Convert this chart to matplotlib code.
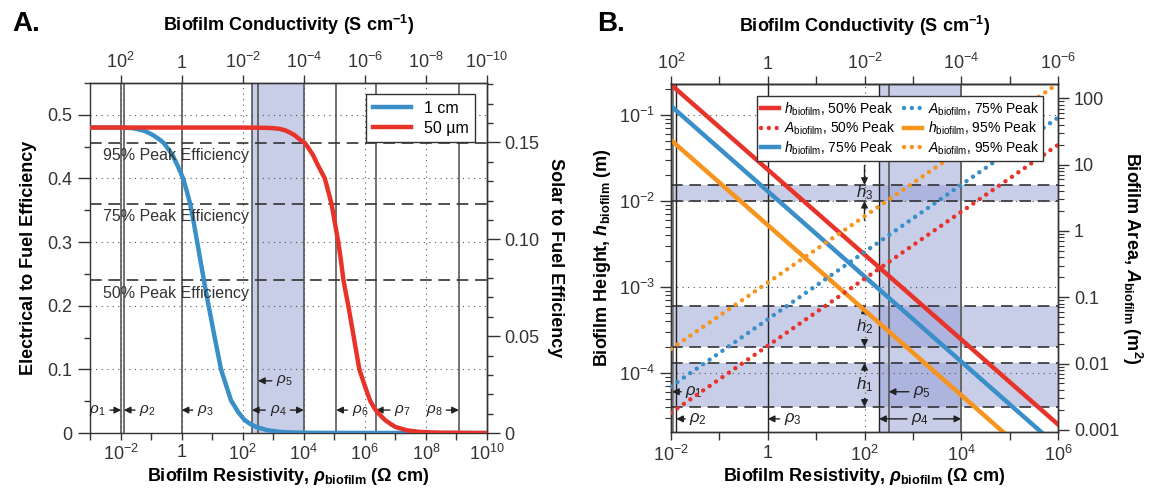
import numpy as np
import matplotlib
matplotlib.use("Agg")
import matplotlib.pyplot as plt
from matplotlib.ticker import MultipleLocator, NullFormatter

plt.rcParams['font.family'] = ['Liberation Sans', 'DejaVu Sans']
plt.rcParams['mathtext.fontset'] = 'custom'
plt.rcParams['mathtext.rm'] = 'Liberation Sans'
plt.rcParams['mathtext.it'] = 'Liberation Sans:italic'
plt.rcParams['mathtext.bf'] = 'Liberation Sans:bold'
plt.rcParams['mathtext.bfit'] = 'Liberation Sans:bold:italic'
plt.rcParams['axes.edgecolor'] = '#333333'
plt.rcParams['axes.linewidth'] = 1.0
plt.rcParams['xtick.color'] = '#333333'
plt.rcParams['ytick.color'] = '#333333'

BLUE = '#3a8fc8'
RED = '#e8332a'
ORANGE = '#f7941d'
SHADE = '#939dd3'
GRIDC = '#555555'
LINEC = '#4a4a4a'

# ---------------- panel A data ----------------
logrho_1cm = [-3, -2, -1.8, -1.6, -1.4, -1.2, -1.05, -0.9, -0.75, -0.59,
              -0.45, -0.3, -0.15, 0.05, 0.17, 0.28, 0.40, 0.51, 0.62, 0.73,
              0.82, 0.9, 1.0, 1.1, 1.2, 1.29, 1.45, 1.62, 1.75, 1.85, 2.05,
              2.25, 2.44, 2.8, 3.2, 3.6, 4.0, 5.0, 10]
eff_1cm = [0.48, 0.48, 0.4795, 0.479, 0.477, 0.4745, 0.471, 0.467, 0.462,
           0.456, 0.447, 0.437, 0.422, 0.40, 0.38, 0.36, 0.33, 0.30, 0.27,
           0.24, 0.216, 0.196, 0.171, 0.146, 0.122, 0.10, 0.076, 0.051, 0.041,
           0.033, 0.021, 0.014, 0.0095, 0.0045, 0.0018, 0.0008, 0.0004,
           0.0001, 0.0]
logrho_50um = [-3, 2.0, 2.8, 3.0, 3.2, 3.4, 3.55, 3.7, 3.85, 4.03, 4.15, 4.3,
               4.45, 4.69, 4.80, 4.91, 5.02, 5.13, 5.22, 5.30, 5.39, 5.47,
               5.56, 5.65, 5.74, 5.82, 6.0, 6.17, 6.3, 6.42, 6.67, 6.85, 7.0,
               7.4, 7.8, 8.2, 8.5, 9.5, 10]
eff_50um = [0.48, 0.48, 0.4795, 0.479, 0.478, 0.4755, 0.472, 0.468, 0.462,
            0.456, 0.448, 0.437, 0.422, 0.40, 0.38, 0.36, 0.33, 0.30, 0.27,
            0.24, 0.217, 0.197, 0.172, 0.147, 0.122, 0.10, 0.074, 0.051,
            0.04, 0.032, 0.02, 0.014, 0.0095, 0.004, 0.0017, 0.0008, 0.0004,
            0.0001, 0.0]
solar_factor = 0.3285
peak_eff = 0.48
peak_fracs = [0.95, 0.75, 0.50]
peak_names = ['95% Peak Efficiency', '75% Peak Efficiency', '50% Peak Efficiency']

# region boundaries (ohm cm)
rho1 = 0.0105
rho2 = 0.0128
rho3 = 1.0
rho4 = 200.0
rho5 = 316.0
rho4_end = 1.0e4
rho6 = 1.15e5
rho7 = 2.3e6
rho8 = 1.2e9

xt_A = [1e-2, 1, 1e2, 1e4, 1e6, 1e8, 1e10]
xt_A_minor = [1e-3, 1e-1, 1e1, 1e3, 1e5, 1e7, 1e9]
xt_A_bottom = [r'$10^{-2}$', '1', r'$10^{2}$', r'$10^{4}$', r'$10^{6}$',
               r'$10^{8}$', r'$10^{10}$']
xt_A_top = [r'$10^{2}$', '1', r'$10^{-2}$', r'$10^{-4}$', r'$10^{-6}$',
            r'$10^{-8}$', r'$10^{-10}$']
yt_A = [0, 0.1, 0.2, 0.3, 0.4, 0.5]
yt_A_labels = ['0', '0.1', '0.2', '0.3', '0.4', '0.5']
yt_solar = [0, 0.05, 0.10, 0.15]
yt_solar_labels = ['0', '0.05', '0.10', '0.15']

# ---------------- panel B data ----------------
rho_B = [1e-2, 1e6]
h_50 = [0.225, 2.5e-5]
h_75 = [0.127, 1.37e-5]
h_95 = [0.051, 5.6e-6]
A_50 = [1.81e-3, 19.8]
A_75 = [4.5e-3, 51.0]
A_95 = [0.0166, 166.0]
h_bands = [(4.0e-5, 1.3e-4), (2.0e-4, 5.9e-4), (1.0e-2, 1.53e-2)]

xt_B = [1e-2, 1, 1e2, 1e4, 1e6]
xt_B_minor = [1e-1, 1e1, 1e3, 1e5]
xt_B_bottom = [r'$10^{-2}$', '1', r'$10^{2}$', r'$10^{4}$', r'$10^{6}$']
xt_B_top = [r'$10^{2}$', '1', r'$10^{-2}$', r'$10^{-4}$', r'$10^{-6}$']
yt_B = [1e-4, 1e-3, 1e-2, 1e-1]
yt_B_labels = [r'$10^{-4}$', r'$10^{-3}$', r'$10^{-2}$', r'$10^{-1}$']
yt_Br = [1e-3, 1e-2, 1e-1, 1, 10, 100]
yt_Br_labels = ['0.001', '0.01', '0.1', '1', '10', '100']

DOT = (0, (1, 4))
DASH = (0, (7, 4))
ARROW = dict(arrowstyle='-|>', color='#222222', lw=1.0, mutation_scale=10,
             shrinkA=1, shrinkB=0)


def side_label(ax, x, y, txt, dx=0, dy=0, fs=11):
    ax.annotate(txt, xy=(x, y), xytext=(dx, dy), textcoords='offset points',
                ha='center', va='center', fontsize=fs, color='#222222',
                arrowprops=ARROW)


def span_label(ax, p0, p1, fixed, txt, vertical=False, fs=11):
    c = np.sqrt(p0 * p1)
    for i, p in enumerate([p0, p1]):
        if vertical:
            xy, xyt = (fixed, p), (fixed, c)
        else:
            xy, xyt = (p, fixed), (c, fixed)
        ax.annotate(txt, xy=xy, xytext=xyt, ha='center', va='center',
                    fontsize=fs, color='#222222' if i == 0 else 'none',
                    arrowprops=ARROW)


fig = plt.figure(figsize=(11.49, 4.95), dpi=100)

# ================= panel A =================
axA = fig.add_axes([90 / 1149, 62 / 495, 397 / 1149, 350 / 495])
axA.set_xscale('log')
axA.set_xlim(1e-3, 1e10)
axA.set_ylim(0, 0.55)

axA.set_xticks(xt_A, labels=xt_A_bottom)
axA.set_xticks(xt_A_minor, minor=True)
axA.xaxis.set_minor_formatter(NullFormatter())
axA.set_yticks(yt_A, labels=yt_A_labels)
axA.yaxis.set_minor_locator(MultipleLocator(0.05))
axA.tick_params(axis='x', which='both', direction='out', length=5, width=1,
                labelsize=13, pad=3)
axA.tick_params(axis='y', which='major', direction='out', length=9, width=1,
                labelsize=13)
axA.tick_params(axis='y', which='minor', direction='out', length=4.5, width=1)
axA.grid(True, which='major', ls=DOT, color=GRIDC, lw=0.8)
axA.set_axisbelow(True)

axA.axvspan(rho4, rho4_end, color=SHADE, alpha=0.5, lw=0, zorder=0.5)
for xv in [rho1, rho2, rho3, rho4, rho5, rho4_end, rho6, rho7, rho8]:
    axA.axvline(xv, color=LINEC, lw=1.1, zorder=1)
for frac, name in zip(peak_fracs, peak_names):
    lev = frac * peak_eff
    axA.axhline(lev, color='#333333', lw=1.2, ls=DASH, zorder=1.5)
    axA.annotate(name, xy=(0.033, lev), xycoords=axA.get_yaxis_transform(),
                 xytext=(0, -4), textcoords='offset points', ha='left',
                 va='top', fontsize=11.5, color='#333333', zorder=6)

axA.plot(10 ** np.array(logrho_1cm), eff_1cm, color=BLUE, lw=3.2,
         label='1 cm', zorder=4)
axA.plot(10 ** np.array(logrho_50um), eff_50um, color=RED, lw=3.2,
         label='50 µm', zorder=5)

yA1 = 0.036
yA5 = 0.082
side_label(axA, rho1, yA1, r'$\rho_1$', dx=-17)
side_label(axA, rho2, yA1, r'$\rho_2$', dx=17)
side_label(axA, rho3, yA1, r'$\rho_3$', dx=17)
span_label(axA, rho4, rho4_end, yA1, r'$\rho_4$')
side_label(axA, rho5, yA5, r'$\rho_5$', dx=19)
side_label(axA, rho6, yA1, r'$\rho_6$', dx=17)
side_label(axA, rho7, yA1, r'$\rho_7$', dx=19)
side_label(axA, rho8, yA1, r'$\rho_8$', dx=-18)

legA = axA.legend(loc='upper right', bbox_to_anchor=(0.99, 0.99),
                  fontsize=11.5, handlelength=2.4, fancybox=False,
                  framealpha=1, edgecolor='#333333', borderpad=0.4,
                  labelspacing=0.3)
legA.get_frame().set_linewidth(1.0)
legA.set_zorder(10)

secA = axA.secondary_yaxis('right', functions=(lambda y: y * solar_factor,
                                               lambda y: y / solar_factor))
secA.set_yticks(yt_solar, labels=yt_solar_labels)
secA.yaxis.set_minor_locator(MultipleLocator(0.01))
secA.tick_params(which='major', direction='out', length=9, width=1,
                 labelsize=13)
secA.tick_params(which='minor', direction='out', length=4.5, width=1)
secA.set_ylabel('Solar to Fuel Efficiency', fontsize=13, fontweight='bold',
                rotation=270, labelpad=18)

topA = axA.secondary_xaxis('top')
topA.set_xticks(xt_A, labels=xt_A_top)
topA.tick_params(direction='out', length=6, width=1, labelsize=13, pad=2)
topA.set_xlabel(r'Biofilm Conductivity (S cm$^{\mathbf{-1}}$)', fontsize=13,
                fontweight='bold', labelpad=15)

axA.set_xlabel(r'Biofilm Resistivity, $\mathbfit{\rho}_{\mathbf{biofilm}}$'
               r' ($\mathbf{\Omega}$ cm)', fontsize=13, fontweight='bold',
               labelpad=1)
axA.set_ylabel('Electrical to Fuel Efficiency', fontsize=13,
               fontweight='bold', labelpad=8)

# ================= panel B =================
axB = fig.add_axes([671 / 1149, 63 / 495, 387 / 1149, 348 / 495])
axB.set_xscale('log')
axB.set_yscale('log')
axB.set_xlim(1e-2, 1e6)
axB.set_ylim(2.04e-5, 0.229)
axB.set_xticks(xt_B, labels=xt_B_bottom)
axB.set_xticks(xt_B_minor, minor=True)
axB.xaxis.set_minor_formatter(NullFormatter())
axB.set_yticks(yt_B, labels=yt_B_labels)
axB.yaxis.set_minor_formatter(NullFormatter())
axB.tick_params(axis='x', which='both', direction='out', length=6, width=1,
                labelsize=13, pad=3)
axB.tick_params(axis='y', which='major', direction='out', length=8, width=1,
                labelsize=13)
axB.tick_params(axis='y', which='minor', direction='out', length=4, width=0.8)
axB.grid(True, which='major', ls=DOT, color=GRIDC, lw=0.8)
axB.set_axisbelow(True)

axB.axvspan(rho4, rho4_end, color=SHADE, alpha=0.5, lw=0, zorder=0.5)
for lo, hi in h_bands:
    axB.axhspan(lo, hi, color=SHADE, alpha=0.5, lw=0, zorder=0.5)
    for lev in (lo, hi):
        axB.axhline(lev, color='#333333', lw=1.2, ls=DASH, zorder=1.5)
axB.axvline(rho1, color='#888888', lw=2.2, zorder=1)
for xv in [rho2, rho3, rho4]:
    axB.axvline(xv, color='#222222', lw=1.0, zorder=1)
for xv in [rho5, rho4_end]:
    axB.axvline(xv, color='#666666', lw=1.4, zorder=1)

ln_h50, = axB.plot(rho_B, h_50, color=RED, lw=3.2, zorder=4)
ln_h75, = axB.plot(rho_B, h_75, color=BLUE, lw=3.2, zorder=4)
ln_h95, = axB.plot(rho_B, h_95, color=ORANGE, lw=3.2, zorder=4)

yB1 = 6.0e-5
yB2 = 2.9e-5
side_label(axB, rho1, yB1, r'$\rho_1$', dx=16, fs=12)
side_label(axB, rho2, yB2, r'$\rho_2$', dx=16, fs=12)
side_label(axB, rho3, yB2, r'$\rho_3$', dx=18, fs=12)
side_label(axB, rho5, yB1, r'$\rho_5$', dx=24, fs=12)
span_label(axB, rho4, rho4_end, yB2, r'$\rho_4$', fs=12)

x_h = 1e2
span_label(axB, h_bands[0][0], h_bands[0][1], x_h, r'$h_1$', vertical=True,
           fs=12)
span_label(axB, h_bands[1][0], h_bands[1][1], x_h, r'$h_2$', vertical=True,
           fs=12)
lo3, hi3 = h_bands[2]
axB.annotate('', xy=(x_h, hi3), xytext=(0, 15), textcoords='offset points',
             arrowprops=ARROW)
axB.annotate('', xy=(x_h, lo3), xytext=(0, -15), textcoords='offset points',
             arrowprops=ARROW)
axB.text(x_h, np.sqrt(lo3 * hi3), r'$h_3$', ha='center', va='center',
         fontsize=12, color='#222222')

axBr = axB.twinx()
axBr.set_yscale('log')
axBr.set_ylim(9.27e-4, 164)
axBr.set_yticks(yt_Br, labels=yt_Br_labels)
axBr.yaxis.set_minor_formatter(NullFormatter())
axBr.tick_params(axis='y', which='major', direction='out', length=8, width=1,
                 labelsize=13)
axBr.tick_params(axis='y', which='minor', direction='out', length=4,
                 width=0.8)
dots = dict(lw=3.2, ls=(0, (0.01, 1.75)), dash_capstyle='round', zorder=4)
ln_A50, = axBr.plot(rho_B, A_50, color=RED, **dots)
ln_A75, = axBr.plot(rho_B, A_75, color=BLUE, **dots)
ln_A95, = axBr.plot(rho_B, A_95, color=ORANGE, **dots)

handles = [ln_h50, ln_A50, ln_h75, ln_A75, ln_h95, ln_A95]
labels = [r'$h_{\rm biofilm}$, 50% Peak', r'$A_{\rm biofilm}$, 50% Peak',
          r'$h_{\rm biofilm}$, 75% Peak', r'$A_{\rm biofilm}$, 75% Peak',
          r'$h_{\rm biofilm}$, 95% Peak', r'$A_{\rm biofilm}$, 95% Peak']
legB = axBr.legend(handles, labels, ncol=2, loc='upper right',
                   bbox_to_anchor=(0.98, 0.985), fontsize=10,
                   handlelength=1.3, handletextpad=0.4, columnspacing=0.6,
                   labelspacing=0.15, fancybox=False, framealpha=1,
                   edgecolor='#333333', borderpad=0.3)
legB.get_frame().set_linewidth(1.0)
axBr.set_ylabel(r'Biofilm Area, $\mathbfit{A}_{\mathbf{biofilm}}$'
                r' (m$^{\mathbf{2}}$)', fontsize=13, fontweight='bold',
                rotation=270, labelpad=18)

topB = axB.secondary_xaxis('top')
topB.set_xticks(xt_B, labels=xt_B_top)
topB.set_xticks(xt_B_minor, minor=True)
topB.xaxis.set_minor_formatter(NullFormatter())
topB.tick_params(which='both', direction='out', length=6, width=1,
                 labelsize=13, pad=2)
topB.set_xlabel(r'Biofilm Conductivity (S cm$^{\mathbf{-1}}$)', fontsize=13,
                fontweight='bold', labelpad=15)

axB.set_xlabel(r'Biofilm Resistivity, $\mathbfit{\rho}_{\mathbf{biofilm}}$'
               r' ($\mathbf{\Omega}$ cm)', fontsize=13, fontweight='bold',
               labelpad=1)
axB.set_ylabel(r'Biofilm Height, $\mathbfit{h}_{\mathbf{biofilm}}$ (m)',
               fontsize=13, fontweight='bold', labelpad=4)

fig.text(12 / 1149, 1 - 24 / 495, 'A.', fontsize=20, fontweight='bold',
         va='center')
fig.text(597 / 1149, 1 - 24 / 495, 'B.', fontsize=20, fontweight='bold',
         va='center')

fig.savefig('out.png', dpi=100)
